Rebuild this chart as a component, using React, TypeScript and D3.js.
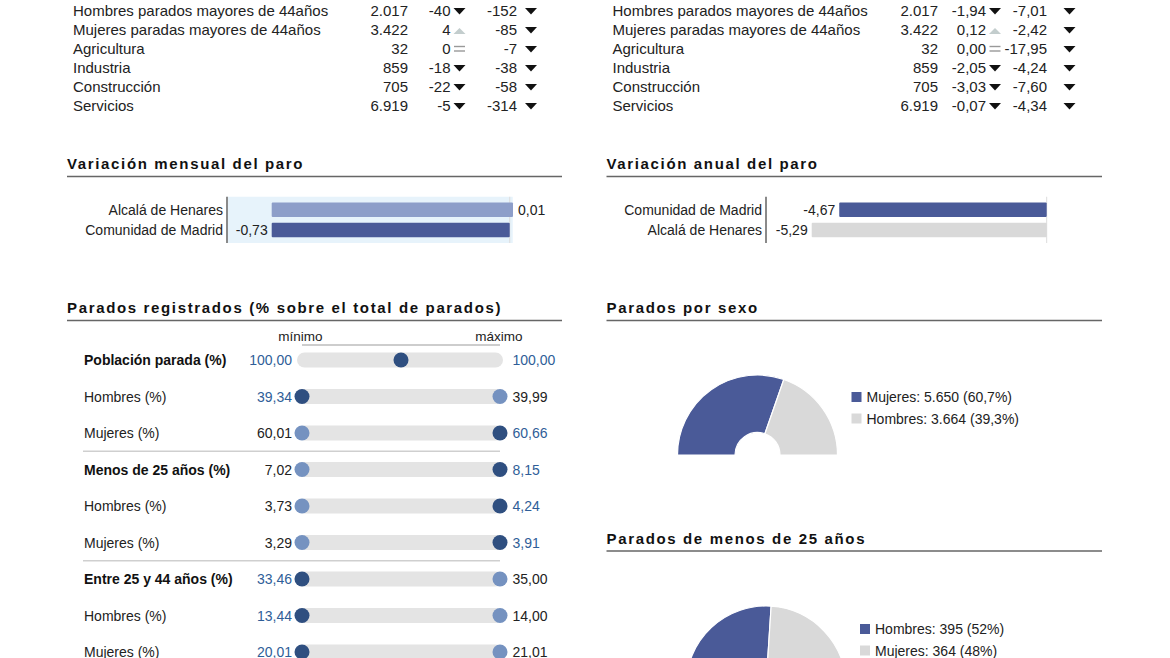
import React, { useEffect, useRef } from "react";
import * as d3 from "d3";

// tabla superior
const tableLabels = [
  "Hombres parados mayores de 44años",
  "Mujeres paradas mayores de 44años",
  "Agricultura",
  "Industria",
  "Construcción",
  "Servicios",
];
const tableTotals = [2017, 3422, 32, 859, 705, 6919];
const monthlyAbs = [-40, 4, 0, -18, -22, -5];
const annualAbs = [-152, -85, -7, -38, -58, -314];
const monthlyPct = [-1.94, 0.12, 0.0, -2.05, -3.03, -0.07];
const annualPct = [-7.01, -2.42, -17.95, -4.24, -7.6, -4.34];

// variaciones
const monthlyPlaces = ["Alcalá de Henares", "Comunidad de Madrid"];
const monthlyValues = [0.01, -0.73];
const annualPlaces = ["Comunidad de Madrid", "Alcalá de Henares"];
const annualValues = [-4.67, -5.29];

// parados registrados (%)
const rangeLabels = [
  "Población parada (%)",
  "Hombres (%)",
  "Mujeres (%)",
  "Menos de 25 años (%)",
  "Hombres (%)",
  "Mujeres (%)",
  "Entre 25 y 44 años (%)",
  "Hombres (%)",
  "Mujeres (%)",
];
const rangeGroup = [true, false, false, true, false, false, true, false, false];
const rangeLocal = [100, 39.34, 60.66, 8.15, 4.24, 3.91, 33.46, 13.44, 20.01];
const rangeOther = [100, 39.99, 60.01, 7.02, 3.73, 3.29, 35.0, 14.0, 21.01];

// tartas
const sexLabels = ["Mujeres", "Hombres"];
const sexValues = [5650, 3664];
const youngLabels = ["Hombres", "Mujeres"];
const youngValues = [395, 364];

const FONT = "'Liberation Sans', Arial, Helvetica, sans-serif";
const DARK = "#4a5a98";
const GRAY = "#d9d9d9";

const es = d3.formatLocale({
  decimal: ",",
  thousands: ".",
  grouping: [3],
  currency: ["", " €"],
  minus: "-",
});
const fInt = es.format(",d");
const f2 = es.format(".2f");

type G = d3.Selection<SVGGElement, unknown, null, undefined>;

function sectionTitle(svg: G, text: string, x: number, y: number, x2: number) {
  svg
    .append("text")
    .attr("x", x)
    .attr("y", y)
    .attr("font-size", 15)
    .attr("font-weight", "bold")
    .attr("letter-spacing", 1.65)
    .attr("fill", "#111")
    .text(text);
  svg
    .append("line")
    .attr("x1", x)
    .attr("x2", x2)
    .attr("y1", y + 7.5)
    .attr("y2", y + 7.5)
    .attr("stroke", "#666")
    .attr("stroke-width", 1.5);
}

function arrow(g: G, v: number, cx: number, by: number) {
  if (v < 0) {
    g.append("path")
      .attr("d", `M${cx - 6},${by - 8}L${cx + 6},${by - 8}L${cx},${by - 1.5}Z`)
      .attr("fill", "#111");
  } else if (v > 0) {
    g.append("path")
      .attr("d", `M${cx - 6},${by - 1}L${cx + 6},${by - 1}L${cx},${by - 7}Z`)
      .attr("fill", "#c3cdcd");
  } else {
    [-7.5, -3].forEach((dy) =>
      g
        .append("line")
        .attr("x1", cx - 5.5)
        .attr("x2", cx + 5.5)
        .attr("y1", by + dy)
        .attr("y2", by + dy)
        .attr("stroke", "#999")
        .attr("stroke-width", 1.4)
    );
  }
}

function table(
  svg: G,
  cols: { label: number; total: number; chg: number; chgA: number; ann: number; annA: number },
  chg: number[],
  ann: number[],
  fmt: (n: number) => string
) {
  const y = d3.scaleLinear().domain([0, tableLabels.length - 1]).range([16, 111]);
  const g = svg.append("g").attr("font-size", 15).attr("fill", "#222");
  tableLabels.forEach((lab, i) => {
    const by = y(i);
    g.append("text").attr("x", cols.label).attr("y", by).text(lab);
    g.append("text").attr("x", cols.total).attr("y", by).attr("text-anchor", "end").text(fInt(tableTotals[i]));
    g.append("text").attr("x", cols.chg).attr("y", by).attr("text-anchor", "end").text(fmt(chg[i]));
    arrow(g, chg[i], cols.chgA, by);
    g.append("text").attr("x", cols.ann).attr("y", by).attr("text-anchor", "end").text(fmt(ann[i]));
    arrow(g, ann[i], cols.annA, by);
  });
}

function bars(
  svg: G,
  places: string[],
  values: number[],
  colors: string[],
  axisX: number,
  range: [number, number],
  hover: string | null
) {
  const domain: [number, number] = [Math.min(0, d3.min(values)!), Math.max(0, d3.max(values)!)];
  const x = d3.scaleLinear().domain(domain).range(range);
  const y = d3.scaleBand().domain(places).range([196.75, 243]).padding(0.284);
  const g = svg.append("g").attr("font-size", 14).attr("fill", "#222");
  const [y0, y1] = y.range();

  if (hover) {
    g.append("rect")
      .attr("x", axisX)
      .attr("y", y0)
      .attr("width", x(0) + 3 - axisX)
      .attr("height", y1 - y0)
      .attr("fill", "#e7f3fb");
  }
  g.append("line")
    .attr("x1", x(0))
    .attr("x2", x(0))
    .attr("y1", y0)
    .attr("y2", y1)
    .attr("stroke", "#dcdcdc");

  places.forEach((p, i) => {
    const v = values[i];
    const bx0 = p === hover ? x(domain[0]) : x(Math.min(0, v));
    const bx1 = x(Math.max(0, v));
    g.append("rect")
      .attr("x", bx0)
      .attr("y", y(p)!)
      .attr("width", bx1 - bx0)
      .attr("height", y.bandwidth())
      .attr("rx", 1)
      .attr("fill", colors[i]);
    const cy = y(p)! + y.bandwidth() / 2 + 5;
    g.append("text")
      .attr("x", axisX - 4)
      .attr("y", cy)
      .attr("text-anchor", "end")
      .text(p);
    g.append("text")
      .attr("x", v < 0 ? x(v) - 4 : x(v) + 5)
      .attr("y", cy)
      .attr("text-anchor", v < 0 ? "end" : "start")
      .text(f2(v));
  });
  g.append("line")
    .attr("x1", axisX)
    .attr("x2", axisX)
    .attr("y1", y0)
    .attr("y2", y1)
    .attr("stroke", "#8a8a8a")
    .attr("stroke-width", 2);
}

function halfDonut(
  svg: G,
  labels: string[],
  values: number[],
  cx: number,
  cy: number,
  legX: number,
  legY: number,
  pctFmt: (n: number) => string
) {
  const colors = d3.scaleOrdinal<string, string>().domain(labels).range([DARK, GRAY]);
  const pie = d3
    .pie<number>()
    .sort(null)
    .startAngle(-Math.PI / 2)
    .endAngle(Math.PI / 2);
  const arc = d3.arc<d3.PieArcDatum<number>>().innerRadius(22.5).outerRadius(80);
  const total = d3.sum(values);
  const g = svg.append("g").attr("transform", `translate(${cx},${cy})`);
  g.selectAll("path")
    .data(pie(values))
    .enter()
    .append("path")
    .attr("d", arc)
    .attr("fill", (_, i) => colors(labels[i]))
    .attr("stroke", "#fff")
    .attr("stroke-width", 1.2);

  const leg = svg.append("g").attr("font-size", 14).attr("fill", "#222");
  labels.forEach((lab, i) => {
    const ly = legY + i * 21.5;
    leg.append("rect").attr("x", legX).attr("y", ly - 10).attr("width", 10).attr("height", 10).attr("fill", colors(lab));
    leg
      .append("text")
      .attr("x", legX + 15)
      .attr("y", ly)
      .text(`${lab}: ${fInt(values[i])} (${pctFmt((values[i] / total) * 100)}%)`);
  });
}

function dumbbells(svg: G) {
  const y = d3.scaleLinear().domain([0, rangeLabels.length - 1]).range([360, 652]);
  const g = svg.append("g").attr("font-size", 14).attr("fill", "#222");
  const left = 302;
  const right = 500;

  g.append("text").attr("x", 300.5).attr("y", 341).attr("text-anchor", "middle").attr("font-size", 13.5).text("mínimo");
  g.append("text").attr("x", 499).attr("y", 341).attr("text-anchor", "middle").attr("font-size", 13.5).text("máximo");
  g.append("line").attr("x1", left).attr("x2", right).attr("y1", 345).attr("y2", 345).attr("stroke", "#bdbdbd").attr("stroke-width", 1.5);

  [2.5, 5.5].forEach((k) =>
    g
      .append("line")
      .attr("x1", 83)
      .attr("x2", right)
      .attr("y1", y(k))
      .attr("y2", y(k))
      .attr("stroke", "#cfcfcf")
      .attr("stroke-width", 1.5)
  );

  rangeLabels.forEach((lab, i) => {
    const cy = y(i);
    const lo = Math.min(rangeLocal[i], rangeOther[i]);
    const hi = Math.max(rangeLocal[i], rangeOther[i]);
    const x = d3.scaleLinear().domain([lo, hi]).range([left, right]);

    g.append("text")
      .attr("x", 84)
      .attr("y", cy + 5)
      .attr("font-weight", rangeGroup[i] ? "bold" : "normal")
      .attr("fill", rangeGroup[i] ? "#111" : "#222")
      .text(lab);

    g.append("rect")
      .attr("x", left - 5)
      .attr("y", cy - 7.5)
      .attr("width", right - left + 8)
      .attr("height", 15)
      .attr("rx", 7.5)
      .attr("fill", "#e4e4e4");

    const localIsLow = rangeLocal[i] <= rangeOther[i];
    const loBlue = localIsLow;
    const hiBlue = !localIsLow || lo === hi;
    g.append("text")
      .attr("x", 292)
      .attr("y", cy + 5)
      .attr("text-anchor", "end")
      .attr("fill", loBlue ? "#2f5e98" : "#222")
      .text(f2(lo));
    g.append("text")
      .attr("x", 512.5)
      .attr("y", cy + 5)
      .attr("fill", hiBlue ? "#2f5e98" : "#222")
      .text(f2(hi));

    if (lo !== hi) {
      g.append("circle").attr("cx", x(rangeOther[i])).attr("cy", cy).attr("r", 7.5).attr("fill", "#7592c0");
    }
    g.append("circle").attr("cx", x(rangeLocal[i])).attr("cy", cy).attr("r", 7.5).attr("fill", "#2f4f80");
  });
}

const App: React.FC = () => {
  const svgRef = useRef<SVGSVGElement>(null);

  useEffect(() => {
    d3.select(svgRef.current).selectAll("*").remove();
    const svg = d3
      .select(svgRef.current)
      .attr("width", 1170)
      .attr("height", 658)
      .append("g")
      .attr("font-family", FONT) as unknown as G;

    svg.append("rect").attr("width", 1170).attr("height", 658).attr("fill", "#fff");

    table(svg, { label: 73, total: 408, chg: 450.5, chgA: 459.5, ann: 517, annA: 531 }, monthlyAbs, annualAbs, fInt);
    table(svg, { label: 612.5, total: 938, chg: 986, chgA: 995, ann: 1047, annA: 1069.5 }, monthlyPct, annualPct, f2);

    sectionTitle(svg, "Variación mensual del paro", 67, 169, 562);
    sectionTitle(svg, "Variación anual del paro", 606.5, 169, 1102);
    bars(svg, monthlyPlaces, monthlyValues, ["#8d9ec9", DARK], 227, [271.7, 513], "Alcalá de Henares");
    bars(svg, annualPlaces, annualValues, [DARK, GRAY], 766, [811.7, 1046.7], null);

    sectionTitle(svg, "Parados registrados (% sobre el total de parados)", 67, 313, 562);
    dumbbells(svg);

    sectionTitle(svg, "Parados por sexo", 606.5, 313, 1102);
    halfDonut(svg, sexLabels, sexValues, 757.5, 455, 851.5, 402, es.format(".1f"));

    sectionTitle(svg, "Parados de menos de 25 años", 606.5, 543.5, 1102);
    halfDonut(svg, youngLabels, youngValues, 766, 686, 860, 634, es.format(".0f"));
  }, []);

  return (
    <svg
      ref={svgRef}
      style={{ position: "absolute", left: 0, top: 0, display: "block" }}
    ></svg>
  );
};

export default App;
